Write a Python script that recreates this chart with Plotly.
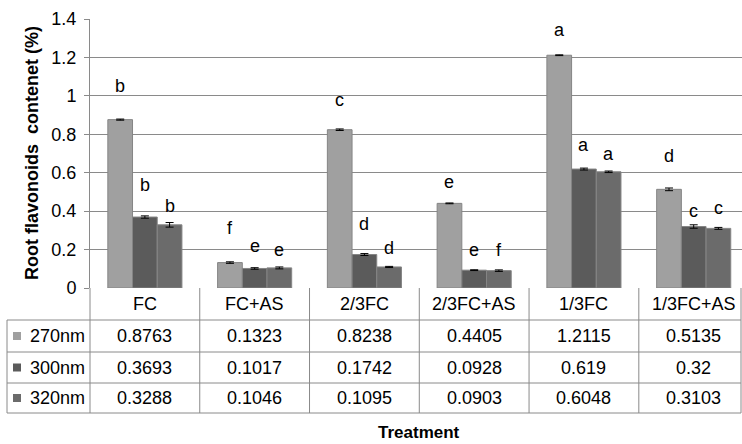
import plotly.graph_objects as go

categories = ["FC", "FC+AS", "2/3FC", "2/3FC+AS", "1/3FC", "1/3FC+AS"]
series_names = ["270nm", "300nm", "320nm"]
v270 = [0.8763, 0.1323, 0.8238, 0.4405, 1.2115, 0.5135]
v300 = [0.3693, 0.1017, 0.1742, 0.0928, 0.619, 0.32]
v320 = [0.3288, 0.1046, 0.1095, 0.0903, 0.6048, 0.3103]
e270 = [0.003, 0.004, 0.004, 0.002, 0.002, 0.007]
e300 = [0.006, 0.004, 0.005, 0.002, 0.005, 0.009]
e320 = [0.012, 0.005, 0.003, 0.004, 0.004, 0.005]
l270 = ["b", "f", "c", "e", "a", "d"]
l300 = ["b", "e", "d", "e", "a", "c"]
l320 = ["b", "e", "d", "f", "a", "c"]
# heights (in axis units) at which the significance letters sit
h270 = [1.049, 0.312, 0.976, 0.55, 1.344, 0.685]
h300 = [0.537, 0.22, 0.335, 0.20, 0.746, 0.399]
h320 = [0.425, 0.199, 0.208, 0.20, 0.70, 0.418]
yticks = [0, 0.2, 0.4, 0.6, 0.8, 1.0, 1.2, 1.4]

values = [v270, v300, v320]
errors = [e270, e300, e320]
letters = [l270, l300, l320]
heights = [h270, h300, h320]
colors = ["#A0A0A0", "#5B5B5B", "#6B6B6B"]

FONT = "Liberation Sans, Arial, sans-serif"
LINE = "#8A8A8A"
W_FIG, H_FIG = 742, 444
L, R, T, B = 90, 742, 19, 288
PW, PH = R - L, B - T


def px(xp):
    return (xp - L) / PW


def py(yp):
    return (B - yp) / PH


xs = list(range(len(categories)))
fig = go.Figure()
for name, vals, errs, col in zip(series_names, values, errors, colors):
    fig.add_trace(go.Bar(
        x=xs, y=vals, name=name,
        marker=dict(color=col, line=dict(color="#858585", width=1)),
        error_y=dict(type="data", array=errs, visible=True, color="#000000",
                     thickness=1, width=4),
        showlegend=False,
    ))

annotations = []
shapes = []

# significance letters
nser = len(series_names)
bargap = 0.325
group_w = 1 - bargap
bw = group_w / nser
for si in range(nser):
    for ci in xs:
        xc = ci - group_w / 2 + bw * (si + 0.5)
        annotations.append(dict(
            x=xc, y=heights[si][ci], xref="x", yref="y", text=letters[si][ci],
            showarrow=False, font=dict(family=FONT, size=18, color="#000000"),
            xanchor="center", yanchor="middle"))

# data table
row_edges = [288, 320, 352, 383, 413]
x_left_tab = 7
x_right_tab = 741
for i, yp in enumerate(row_edges[1:]):
    shapes.append(dict(type="line", xref="paper", yref="paper",
                       x0=px(x_left_tab), x1=px(x_right_tab), y0=py(yp), y1=py(yp),
                       line=dict(color=LINE, width=1)))
shapes.append(dict(type="line", xref="paper", yref="paper",
                   x0=px(x_left_tab), x1=px(x_left_tab), y0=py(row_edges[1]), y1=py(row_edges[-1]),
                   line=dict(color=LINE, width=1)))
shapes.append(dict(type="line", xref="paper", yref="paper",
                   x0=0, x1=0, y0=py(row_edges[0]), y1=py(row_edges[-1]),
                   line=dict(color=LINE, width=1)))
shapes.append(dict(type="line", xref="paper", yref="paper",
                   x0=px(x_right_tab), x1=px(x_right_tab), y0=py(row_edges[0]), y1=py(row_edges[-1]),
                   line=dict(color=LINE, width=1)))
for ci in xs[:-1]:
    shapes.append(dict(type="line", xref="x", yref="paper",
                       x0=ci + 0.5, x1=ci + 0.5, y0=py(row_edges[0]), y1=py(row_edges[-1]),
                       line=dict(color=LINE, width=1)))

tfont = dict(family=FONT, size=18, color="#000000")
hc = (row_edges[0] + row_edges[1]) / 2
for ci, cat in enumerate(categories):
    annotations.append(dict(x=ci, y=py(hc), xref="x", yref="paper", text=cat,
                            showarrow=False, font=tfont, xanchor="center", yanchor="middle"))
for si in range(nser):
    rc = (row_edges[si + 1] + row_edges[si + 2]) / 2
    shapes.append(dict(type="rect", xref="paper", yref="paper",
                       x0=px(13), x1=px(21), y0=py(rc + 4), y1=py(rc - 4),
                       fillcolor=colors[si], line=dict(width=0)))
    annotations.append(dict(x=px(28), y=py(rc), xref="paper", yref="paper",
                            text=series_names[si], showarrow=False, font=tfont,
                            xanchor="left", yanchor="middle"))
    for ci in xs:
        annotations.append(dict(x=ci, y=py(rc), xref="x", yref="paper",
                                text=f"{values[si][ci]:g}", showarrow=False, font=tfont,
                                xanchor="center", yanchor="middle"))

annotations.append(dict(x=px(32), y=py(153), xref="paper", yref="paper",
                        text="<b>Root flavonoids\u00a0 contenet (%)</b>", textangle=-90,
                        showarrow=False, font=dict(family=FONT, size=18, color="#000000"),
                        xanchor="center", yanchor="middle"))
annotations.append(dict(x=px(419), y=py(433), xref="paper", yref="paper",
                        text="<b>Treatment</b>", showarrow=False,
                        font=dict(family=FONT, size=17, color="#000000"),
                        xanchor="center", yanchor="middle"))

fig.update_layout(
    width=W_FIG, height=H_FIG,
    margin=dict(l=L, r=W_FIG - R, t=T, b=H_FIG - B, pad=0),
    paper_bgcolor="white", plot_bgcolor="white",
    barmode="group", bargap=bargap, bargroupgap=0,
    font=dict(family=FONT, size=18, color="#000000"),
    xaxis=dict(range=[-0.5, 5.44], showticklabels=False, showgrid=False,
               zeroline=False, showline=False, ticks=""),
    yaxis=dict(range=[0, 1.4], tickvals=yticks, ticktext=[f"{v:g}" for v in yticks],
               showgrid=True, gridcolor=LINE, gridwidth=1, zeroline=False,
               showline=True, linecolor=LINE, linewidth=1,
               ticks="outside", ticklen=5, tickcolor=LINE,
               tickfont=dict(family=FONT, size=18, color="#000000"),
               ticklabelstandoff=4),
    annotations=annotations, shapes=shapes,
)

fig.write_html("out.html", config={"displayModeBar": False},
               post_script="document.body.style.margin='0';document.body.style.overflow='hidden';")
